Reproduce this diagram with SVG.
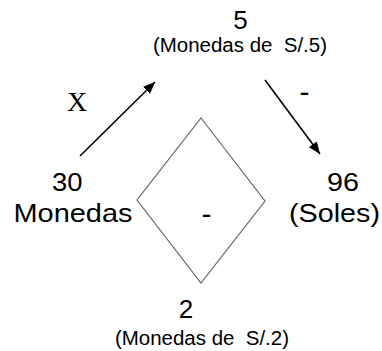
<svg xmlns="http://www.w3.org/2000/svg" width="382" height="351" viewBox="0 0 382 351">
<defs>
<style>
.t{font-family:"Liberation Sans",Arial,sans-serif;fill:#000;white-space:pre}
.big{font-size:26px}
.sm{font-size:20px}
.ser{font-family:"Liberation Serif","Times New Roman",serif;font-size:28px;fill:#000}
.dash{font-family:"Liberation Sans",Arial,sans-serif;font-size:30px;fill:#000}
.arr{stroke:#000;stroke-width:1.6;fill:none;marker-end:url(#ah)}
</style>
<marker id="ah" markerUnits="userSpaceOnUse" markerWidth="13" markerHeight="11" refX="12" refY="5" orient="auto">
<path d="M0,0 L12,5 L0,10 z" fill="#000"/>
</marker>
</defs>
<rect width="382" height="351" fill="#fff"/>
<g id="connectors">
<line class="arr" x1="80" y1="156" x2="155" y2="82"/>
<line class="arr" x1="265" y1="80" x2="320" y2="154"/>
<text class="ser" x="67" y="111">X</text>
<text class="dash" x="299.5" y="101.5">-</text>
</g>
<g id="diamond">
<polygon points="201,118 265,201 201,283 137,200" fill="none" stroke="#666" stroke-width="1.2"/>
<text class="dash" x="201.5" y="223.5">-</text>
</g>
<g id="node-5">
<text class="t big" x="240.5" y="28.5" text-anchor="middle" font-size="27">5</text>
<text class="t sm" x="153" y="52" textLength="174" lengthAdjust="spacingAndGlyphs">(Monedas de  S/.5)</text>
</g>
<g id="node-30">
<text class="t big" x="52" y="190.5" textLength="30.5" lengthAdjust="spacingAndGlyphs">30</text>
<text class="t big" x="13.5" y="221.5" textLength="119" lengthAdjust="spacingAndGlyphs">Monedas</text>
</g>
<g id="node-96">
<text class="t big" x="327" y="190.5" textLength="32" lengthAdjust="spacingAndGlyphs">96</text>
<text class="t big" x="289" y="221.5" textLength="91" lengthAdjust="spacingAndGlyphs">(Soles)</text>
</g>
<g id="node-2">
<text class="t big" x="186" y="318" text-anchor="middle" font-size="27">2</text>
<text class="t sm" x="115" y="345" textLength="174" lengthAdjust="spacingAndGlyphs">(Monedas de  S/.2)</text>
</g>
</svg>
